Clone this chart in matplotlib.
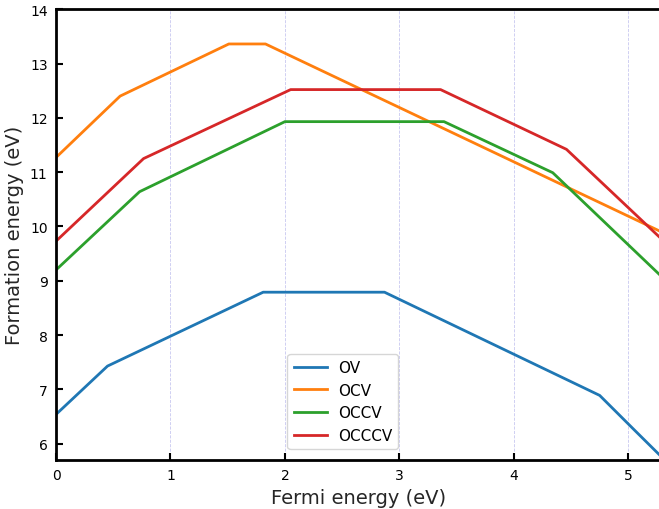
import matplotlib
matplotlib.use("Agg")
import matplotlib.pyplot as plt

# piecewise formation energies (Fermi level, energy)
ov_x = [0.0, 0.45, 1.81, 2.87, 4.75, 5.05, 5.28]
ov_y = [6.54, 7.43, 8.79, 8.79, 6.89, 6.26, 5.78]

ocv_x = [0.0, 0.56, 1.51, 1.83, 5.28]
ocv_y = [11.27, 12.40, 13.36, 13.36, 9.91]

occv_x = [0.0, 0.73, 2.00, 3.39, 4.34, 5.28]
occv_y = [9.20, 10.64, 11.93, 11.93, 10.99, 9.10]

occcv_x = [0.0, 0.765, 2.05, 3.36, 4.46, 5.28]
occcv_y = [9.73, 11.25, 12.52, 12.52, 11.42, 9.79]

labels = ["OV", "OCV", "OCCV", "OCCCV"]

fig = plt.figure(figsize=(6.59, 5.10), dpi=100)
ax = fig.add_axes([0.085, 0.096, 0.917, 0.884])

ax.plot(ov_x, ov_y, color="#1f77b4", lw=2, label=labels[0])
ax.plot(ocv_x, ocv_y, color="#ff7f0e", lw=2, label=labels[1])
ax.plot(occv_x, occv_y, color="#2ca02c", lw=2, label=labels[2])
ax.plot(occcv_x, occcv_y, color="#d62728", lw=2, label=labels[3])

ax.set_xlim(0, 5.28)
ax.set_ylim(5.7, 14)
ax.set_xticks([0, 1, 2, 3, 4, 5])
ax.set_yticks([6, 7, 8, 9, 10, 11, 12, 13, 14])
ax.xaxis.grid(True, linestyle="--", color="#c8c8f0", linewidth=0.6)
ax.set_axisbelow(True)

for s in ["left", "bottom", "top"]:
    ax.spines[s].set_linewidth(2)
ax.spines["right"].set_visible(False)
ax.tick_params(direction="in", length=5, width=1.5, labelsize=10, pad=6)

ax.set_xlabel("Fermi energy (eV)", fontsize=14, color="#262626")
ax.set_ylabel("Formation energy (eV)", fontsize=14, color="#262626")

ax.legend(loc="lower left", bbox_to_anchor=(0.383, 0.024), borderaxespad=0,
          fontsize=11, labelspacing=0.5, handlelength=2.2, handletextpad=0.7,
          framealpha=0.8)

fig.savefig("out.png", dpi=100)
